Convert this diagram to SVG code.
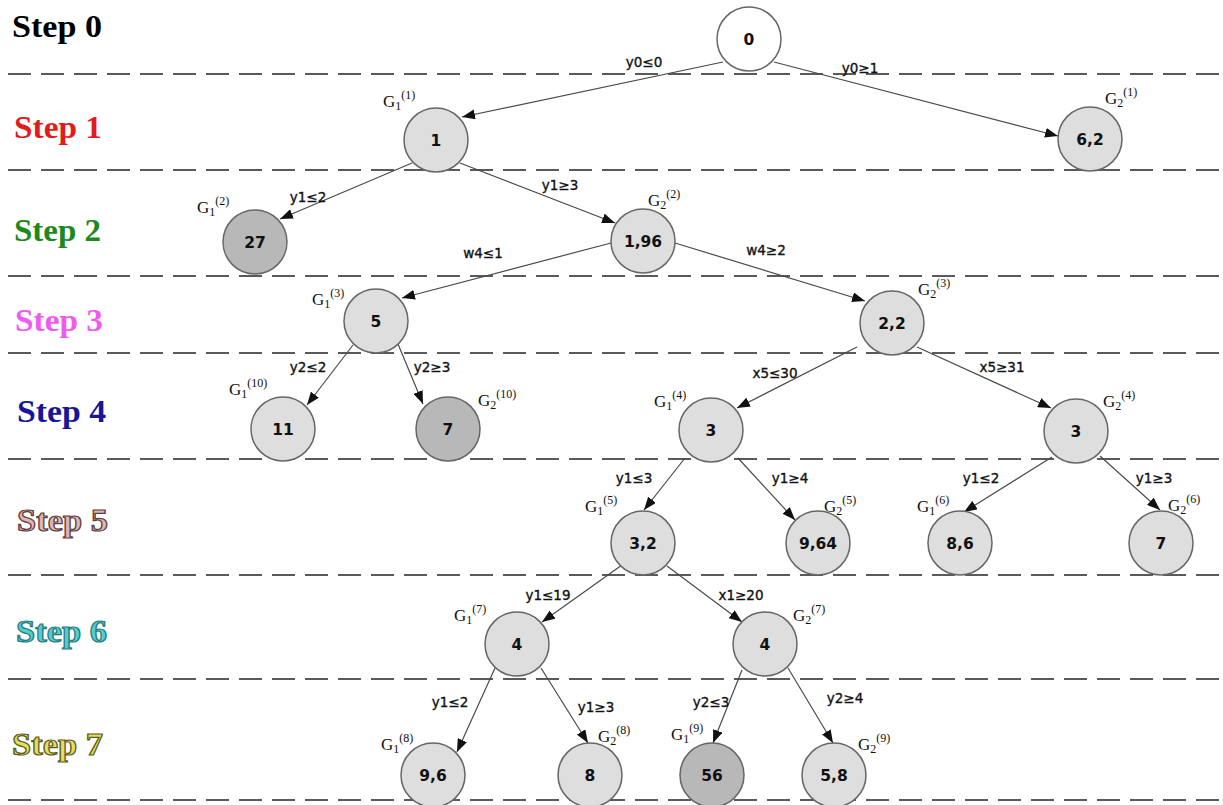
<svg xmlns="http://www.w3.org/2000/svg" width="1223" height="805" viewBox="0 0 1223 805">
<defs>
<marker id="arr" markerUnits="userSpaceOnUse" markerWidth="14" markerHeight="10" refX="13" refY="5" orient="auto">
<path d="M0,0 L13,5 L0,10 Z" fill="#111"/>
</marker>
</defs>
<style>
.dash{stroke:#5a5a5a;stroke-width:2;stroke-dasharray:23 10;fill:none}
.step{font-family:"Liberation Serif",serif;font-weight:bold;font-size:31px}
.edge{stroke:#4a4a4a;stroke-width:1.2;fill:none;marker-end:url(#arr)}
.nd{fill:#dedede;stroke:#666;stroke-width:1.5}
.dk{fill:#b8b8b8}
.wh{fill:#fff}
.nt{font-family:"DejaVu Sans",sans-serif;font-weight:bold;font-size:15.5px;fill:#111;text-anchor:middle}
.el{font-family:"DejaVu Sans",sans-serif;font-size:13.5px;fill:#111;stroke:#111;stroke-width:0.35;text-anchor:middle}
.g{font-family:"Liberation Serif",serif;font-size:17px;fill:#111}
.s{font-size:12px}
</style>
<rect width="1223" height="805" fill="#fff"/>
<g id="grid">
<line class="dash" x1="8" y1="74" x2="1223" y2="74"/>
<line class="dash" x1="8" y1="170" x2="1223" y2="170"/>
<line class="dash" x1="8" y1="276" x2="1223" y2="276"/>
<line class="dash" x1="8" y1="353" x2="1223" y2="353"/>
<line class="dash" x1="8" y1="459" x2="1223" y2="459"/>
<line class="dash" x1="8" y1="575" x2="1223" y2="575"/>
<line class="dash" x1="8" y1="679" x2="1223" y2="679"/>
<line class="dash" x1="8" y1="800" x2="1223" y2="800"/>
</g>
<g id="steps">
<text class="step" x="12" y="37" fill="#000" textLength="90" lengthAdjust="spacingAndGlyphs">Step 0</text>
<text class="step" x="14" y="138" fill="#e41a1c" textLength="88" lengthAdjust="spacingAndGlyphs">Step 1</text>
<text class="step" x="14" y="241" fill="#1b8a1b" textLength="87" lengthAdjust="spacingAndGlyphs">Step 2</text>
<text class="step" x="15" y="331" fill="#ee5cee" textLength="88" lengthAdjust="spacingAndGlyphs">Step 3</text>
<text class="step" x="17" y="422" fill="#16169a" textLength="89" lengthAdjust="spacingAndGlyphs">Step 4</text>
<text class="step" x="17" y="531" fill="#e2b4b4" stroke="#5a4040" stroke-width="1.2" textLength="91" lengthAdjust="spacingAndGlyphs">Step 5</text>
<text class="step" x="16" y="642" fill="#4fd0d0" stroke="#2a7a7a" stroke-width="1.2" textLength="91" lengthAdjust="spacingAndGlyphs">Step 6</text>
<text class="step" x="12" y="755" fill="#e6de5a" stroke="#5a5a20" stroke-width="1.2" textLength="91" lengthAdjust="spacingAndGlyphs">Step 7</text>
</g>
<g id="connectors">
<line class="edge" x1="723" y1="62" x2="462" y2="117"/>
<line class="edge" x1="774" y1="62" x2="1058" y2="136"/>
<line class="edge" x1="412" y1="163" x2="280" y2="219"/>
<line class="edge" x1="460" y1="163" x2="615" y2="223"/>
<line class="edge" x1="611" y1="243" x2="402" y2="298"/>
<line class="edge" x1="675" y1="243" x2="865" y2="301"/>
<line class="edge" x1="353" y1="345" x2="307" y2="405"/>
<line class="edge" x1="398" y1="344" x2="423" y2="404"/>
<line class="edge" x1="857" y1="347" x2="737" y2="408"/>
<line class="edge" x1="917" y1="347" x2="1051" y2="408"/>
<line class="edge" x1="685" y1="458" x2="644" y2="510"/>
<line class="edge" x1="738" y1="458" x2="795" y2="520"/>
<line class="edge" x1="1052" y1="457" x2="964" y2="512"/>
<line class="edge" x1="1100" y1="456" x2="1160" y2="510"/>
<line class="edge" x1="622" y1="565" x2="542" y2="622"/>
<line class="edge" x1="667" y1="566" x2="742" y2="622"/>
<line class="edge" x1="495" y1="668" x2="457" y2="752"/>
<line class="edge" x1="541" y1="668" x2="588" y2="743"/>
<line class="edge" x1="742" y1="670" x2="713" y2="743"/>
<line class="edge" x1="788" y1="668" x2="833" y2="743"/>
<text class="el" x="644" y="67">y0≤0</text>
<text class="el" x="860" y="73">y0≥1</text>
<text class="el" x="308" y="202">y1≤2</text>
<text class="el" x="560" y="190">y1≥3</text>
<text class="el" x="483" y="258">w4≤1</text>
<text class="el" x="766" y="255">w4≥2</text>
<text class="el" x="308" y="372">y2≤2</text>
<text class="el" x="432" y="372">y2≥3</text>
<text class="el" x="775" y="378">x5≤30</text>
<text class="el" x="1002" y="372">x5≥31</text>
<text class="el" x="634" y="483">y1≤3</text>
<text class="el" x="790" y="483">y1≥4</text>
<text class="el" x="981" y="483">y1≤2</text>
<text class="el" x="1154" y="483">y1≥3</text>
<text class="el" x="548" y="600">y1≤19</text>
<text class="el" x="741" y="600">x1≥20</text>
<text class="el" x="450" y="707">y1≤2</text>
<text class="el" x="596" y="712">y1≥3</text>
<text class="el" x="711" y="707">y2≤3</text>
<text class="el" x="845" y="703">y2≥4</text>
</g>
<g id="n0"><circle class="nd wh" cx="749" cy="39" r="32"/><text class="nt" x="749" y="44.5">0</text></g>
<g id="n1"><circle class="nd" cx="436" cy="140" r="32"/><text class="nt" x="436" y="145.5">1</text><text class="g" x="383" y="107">G<tspan class="s" dy="3">1</tspan><tspan class="s" dy="-11">(1)</tspan></text></g>
<g id="n62"><circle class="nd" cx="1090" cy="139" r="32"/><text class="nt" x="1090" y="144.5">6,2</text><text class="g" x="1105" y="104">G<tspan class="s" dy="3">2</tspan><tspan class="s" dy="-11">(1)</tspan></text></g>
<g id="n27"><circle class="nd dk" cx="255" cy="242" r="32"/><text class="nt" x="255" y="247.5">27</text><text class="g" x="197" y="213">G<tspan class="s" dy="3">1</tspan><tspan class="s" dy="-11">(2)</tspan></text></g>
<g id="n196"><circle class="nd" cx="643" cy="241" r="32"/><text class="nt" x="643" y="246.5">1,96</text><text class="g" x="648" y="206">G<tspan class="s" dy="3">2</tspan><tspan class="s" dy="-11">(2)</tspan></text></g>
<g id="n5"><circle class="nd" cx="376" cy="321" r="32"/><text class="nt" x="376" y="326.5">5</text><text class="g" x="312" y="305">G<tspan class="s" dy="3">1</tspan><tspan class="s" dy="-11">(3)</tspan></text></g>
<g id="n22"><circle class="nd" cx="892" cy="323" r="32"/><text class="nt" x="892" y="328.5">2,2</text><text class="g" x="918" y="295">G<tspan class="s" dy="3">2</tspan><tspan class="s" dy="-11">(3)</tspan></text></g>
<g id="n11"><circle class="nd" cx="283" cy="429" r="32"/><text class="nt" x="283" y="434.5">11</text><text class="g" x="229" y="395">G<tspan class="s" dy="3">1</tspan><tspan class="s" dy="-11">(10)</tspan></text></g>
<g id="n7a"><circle class="nd dk" cx="448" cy="429" r="32"/><text class="nt" x="448" y="434.5">7</text><text class="g" x="478" y="406">G<tspan class="s" dy="3">2</tspan><tspan class="s" dy="-11">(10)</tspan></text></g>
<g id="n3a"><circle class="nd" cx="711" cy="430" r="32"/><text class="nt" x="711" y="435.5">3</text><text class="g" x="654" y="407">G<tspan class="s" dy="3">1</tspan><tspan class="s" dy="-11">(4)</tspan></text></g>
<g id="n3b"><circle class="nd" cx="1076" cy="431" r="32"/><text class="nt" x="1076" y="436.5">3</text><text class="g" x="1103" y="407">G<tspan class="s" dy="3">2</tspan><tspan class="s" dy="-11">(4)</tspan></text></g>
<g id="n32"><circle class="nd" cx="643" cy="543" r="32"/><text class="nt" x="643" y="548.5">3,2</text><text class="g" x="585" y="512">G<tspan class="s" dy="3">1</tspan><tspan class="s" dy="-11">(5)</tspan></text></g>
<g id="n964"><circle class="nd" cx="818" cy="543" r="32"/><text class="nt" x="818" y="548.5">9,64</text><text class="g" x="824" y="512">G<tspan class="s" dy="3">2</tspan><tspan class="s" dy="-11">(5)</tspan></text></g>
<g id="n86"><circle class="nd" cx="960" cy="543" r="32"/><text class="nt" x="960" y="548.5">8,6</text><text class="g" x="917" y="512">G<tspan class="s" dy="3">1</tspan><tspan class="s" dy="-11">(6)</tspan></text></g>
<g id="n7b"><circle class="nd" cx="1161" cy="543" r="32"/><text class="nt" x="1161" y="548.5">7</text><text class="g" x="1168" y="511">G<tspan class="s" dy="3">2</tspan><tspan class="s" dy="-11">(6)</tspan></text></g>
<g id="n4a"><circle class="nd" cx="517" cy="644" r="32"/><text class="nt" x="517" y="649.5">4</text><text class="g" x="454" y="621">G<tspan class="s" dy="3">1</tspan><tspan class="s" dy="-11">(7)</tspan></text></g>
<g id="n4b"><circle class="nd" cx="765" cy="644" r="32"/><text class="nt" x="765" y="649.5">4</text><text class="g" x="793" y="621">G<tspan class="s" dy="3">2</tspan><tspan class="s" dy="-11">(7)</tspan></text></g>
<g id="n96"><circle class="nd" cx="433" cy="775" r="32"/><text class="nt" x="433" y="780.5">9,6</text><text class="g" x="381" y="750">G<tspan class="s" dy="3">1</tspan><tspan class="s" dy="-11">(8)</tspan></text></g>
<g id="n8"><circle class="nd" cx="590" cy="775" r="32"/><text class="nt" x="590" y="780.5">8</text><text class="g" x="598" y="742">G<tspan class="s" dy="3">2</tspan><tspan class="s" dy="-11">(8)</tspan></text></g>
<g id="n56"><circle class="nd dk" cx="712" cy="775" r="32"/><text class="nt" x="712" y="780.5">56</text><text class="g" x="671" y="740">G<tspan class="s" dy="3">1</tspan><tspan class="s" dy="-11">(9)</tspan></text></g>
<g id="n58"><circle class="nd" cx="834" cy="775" r="32"/><text class="nt" x="834" y="780.5">5,8</text><text class="g" x="858" y="750">G<tspan class="s" dy="3">2</tspan><tspan class="s" dy="-11">(9)</tspan></text></g>
</svg>
